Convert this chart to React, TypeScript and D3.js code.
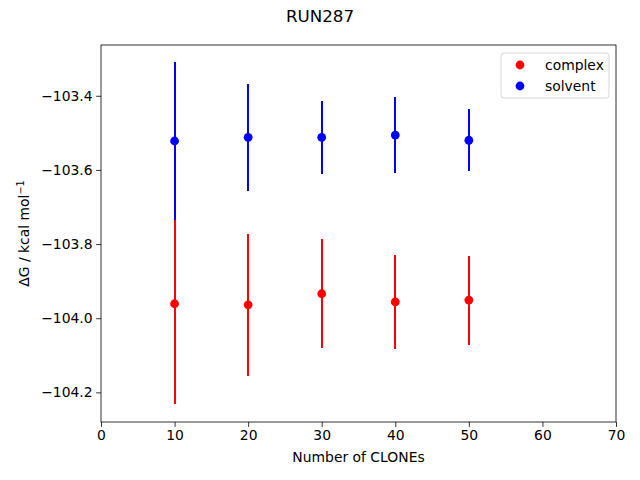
import React, { useEffect, useRef } from 'react';
import * as d3 from 'd3';

const clones = [10, 20, 30, 40, 50];
const complexMean = [-103.961, -103.964, -103.934, -103.956, -103.951];
const complexErr = [0.271, 0.192, 0.147, 0.127, 0.12];
const solventMean = [-103.522, -103.512, -103.512, -103.506, -103.52];
const solventErr = [0.2135, 0.144, 0.098, 0.102, 0.084];
const xTicks = [0, 10, 20, 30, 40, 50, 60, 70];
const yTicks = [-103.4, -103.6, -103.8, -104.0, -104.2];

const W = 640;
const H = 480;
const margin = { left: 101, right: 24, top: 45, bottom: 58 };
const FONT = 'DejaVu Sans, sans-serif';

const App: React.FC = () => {
    const svgRef = useRef<SVGSVGElement>(null);

    useEffect(() => {
        if (!svgRef.current) return;
        const svg = d3.select(svgRef.current);
        svg.selectAll('*').remove();

        const x = d3
            .scaleLinear()
            .domain([0, 70])
            .range([margin.left, W - margin.right]);
        const y = d3
            .scaleLinear()
            .domain([-104.28, -103.263])
            .range([H - margin.bottom, margin.top]);

        svg.append('rect')
            .attr('width', W)
            .attr('height', H)
            .attr('fill', '#fff');

        // series: complex first, solvent drawn on top
        const series = [
            { name: 'complex', color: '#ff0000', mean: complexMean, err: complexErr },
            { name: 'solvent', color: '#0000ff', mean: solventMean, err: solventErr },
        ];

        series.forEach((s) => {
            const g = svg.append('g');
            const rows = clones.map((c, i) => ({ c, m: s.mean[i], e: s.err[i] }));
            g.selectAll('line')
                .data(rows)
                .join('line')
                .attr('x1', (d) => Math.round(x(d.c)))
                .attr('x2', (d) => Math.round(x(d.c)))
                .attr('y1', (d) => y(d.m - d.e))
                .attr('y2', (d) => y(d.m + d.e))
                .attr('stroke', s.color)
                .attr('stroke-width', 2)
                .attr('shape-rendering', 'crispEdges');
            g.selectAll('circle')
                .data(rows)
                .join('circle')
                .attr('cx', (d) => x(d.c))
                .attr('cy', (d) => y(d.m))
                .attr('r', 4.4)
                .attr('fill', s.color);
        });

        // axes
        const xAxis = svg
            .append('g')
            .attr('transform', `translate(0, ${H - margin.bottom})`)
            .call(
                d3
                    .axisBottom(x)
                    .tickValues(xTicks)
                    .tickSize(4.9)
                    .tickPadding(3.5)
                    .tickSizeOuter(0),
            );
        const yAxis = svg
            .append('g')
            .attr('transform', `translate(${margin.left}, 0)`)
            .call(
                d3
                    .axisLeft(y)
                    .tickValues(yTicks)
                    .tickSize(4.9)
                    .tickPadding(3.5)
                    .tickSizeOuter(0)
                    .tickFormat((d) => d3.format('.1f')(d as number).replace('-', '\u2212')),
            );
        [xAxis, yAxis].forEach((a) => {
            a.select('.domain').remove();
            a.selectAll('line').attr('stroke', '#000').attr('stroke-width', 0.8);
            a.selectAll('text')
                .attr('fill', '#000')
                .style('font-family', FONT)
                .style('font-size', '13.9px');
        });

        // frame
        svg.append('rect')
            .attr('x', margin.left)
            .attr('y', margin.top)
            .attr('width', W - margin.left - margin.right)
            .attr('height', H - margin.top - margin.bottom)
            .attr('fill', 'none')
            .attr('stroke', '#000')
            .attr('stroke-width', 0.8);

        // title
        svg.append('text')
            .attr('x', W / 2)
            .attr('y', 22)
            .attr('text-anchor', 'middle')
            .style('font-family', FONT)
            .style('font-size', '16.7px')
            .text('RUN287');

        // x label
        svg.append('text')
            .attr('x', (margin.left + W - margin.right) / 2)
            .attr('y', 462)
            .attr('text-anchor', 'middle')
            .style('font-family', FONT)
            .style('font-size', '13.9px')
            .text('Number of CLONEs');

        // y label
        const yl = svg
            .append('text')
            .attr('transform', `translate(29, ${(margin.top + H - margin.bottom) / 2}) rotate(-90)`)
            .attr('text-anchor', 'middle')
            .style('font-family', FONT)
            .style('font-size', '13.9px');
        yl.append('tspan').text('\u0394G / kcal mol');
        yl.append('tspan')
            .attr('dy', -5)
            .style('font-size', '9.7px')
            .text('\u22121');

        // legend
        const lg = svg.append('g').attr('transform', 'translate(501, 53)');
        lg.append('rect')
            .attr('width', 108)
            .attr('height', 45)
            .attr('rx', 3)
            .attr('fill', '#fff')
            .attr('fill-opacity', 0.8)
            .attr('stroke', '#cccccc')
            .attr('stroke-width', 0.8);
        series.forEach((s, i) => {
            lg.append('circle')
                .attr('cx', 19)
                .attr('cy', 12 + i * 21)
                .attr('r', 4.4)
                .attr('fill', s.color);
            lg.append('text')
                .attr('x', 44)
                .attr('y', 12 + i * 21)
                .attr('dy', '0.35em')
                .style('font-family', FONT)
                .style('font-size', '13.9px')
                .text(s.name);
        });
    }, []);

    return (
        <svg
            ref={svgRef}
            width={W}
            height={H}
            style={{ position: 'absolute', left: 0, top: 0, display: 'block' }}
        />
    );
};

export default App;
